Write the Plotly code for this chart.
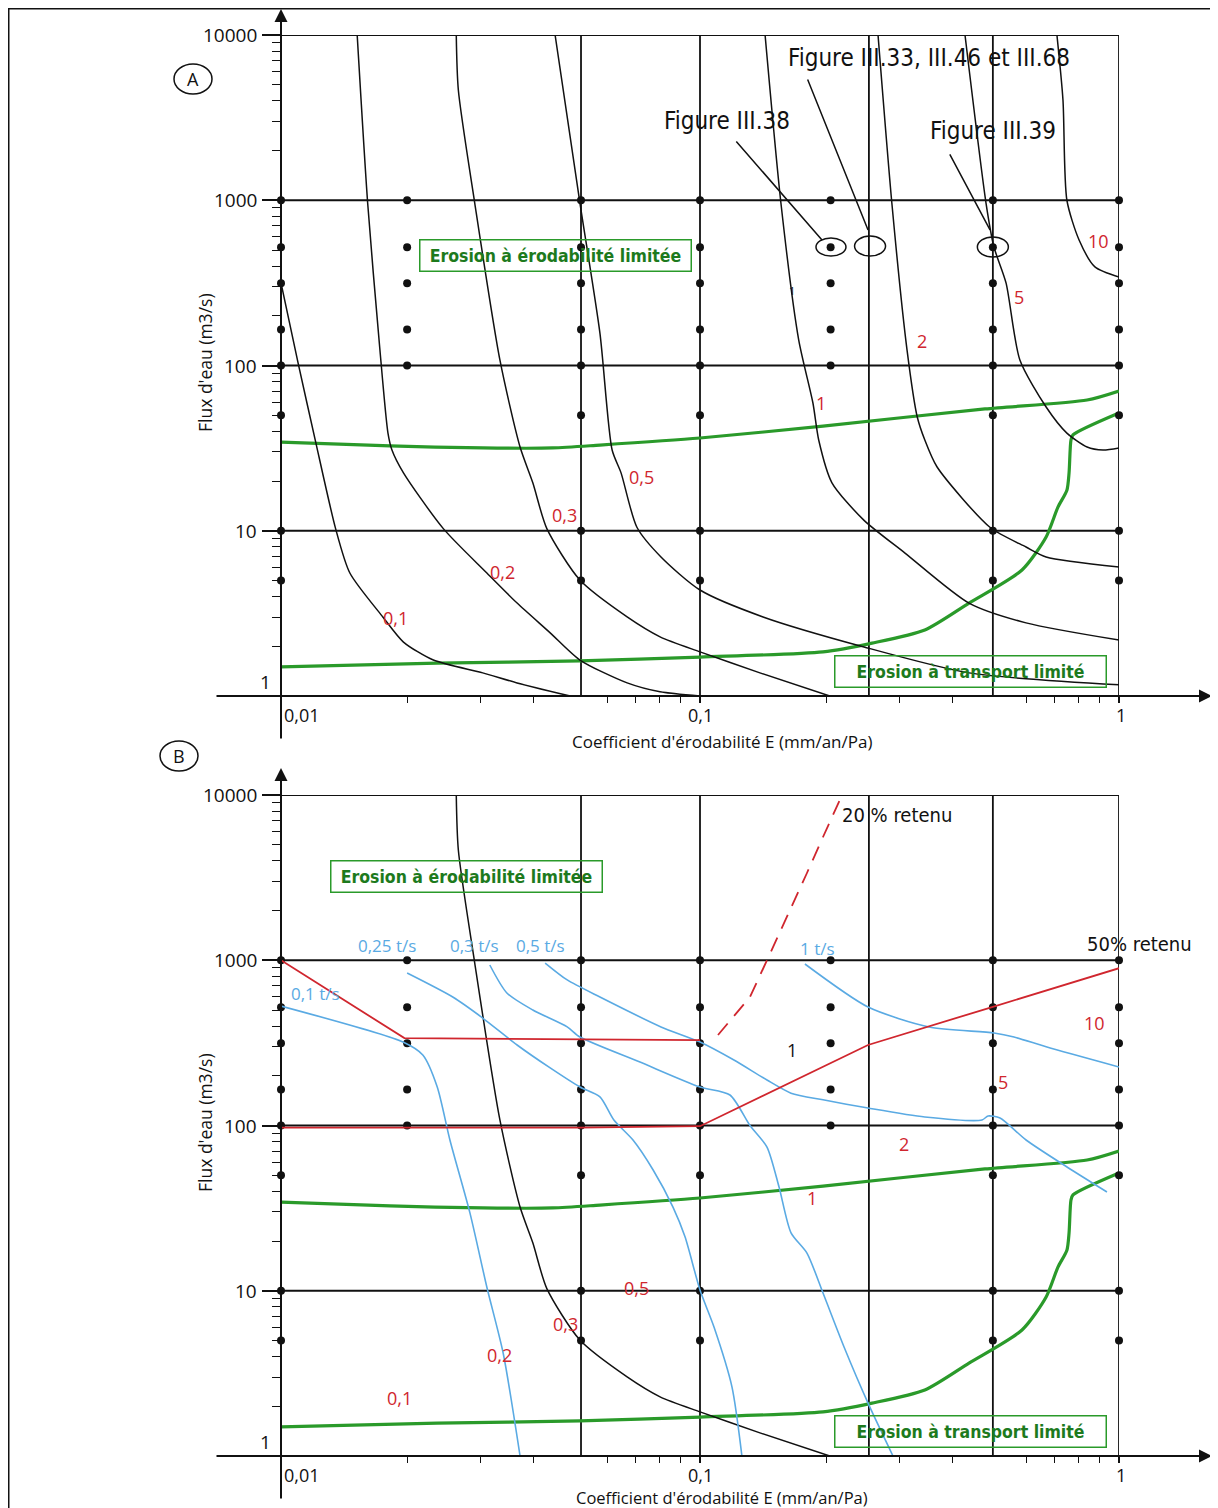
import math
import plotly.graph_objects as go

# the page body adds an 8 px margin: the figure is drawn 8 px smaller and everything shifted by it
OFF = 8
W, H = 1218 - OFF, 1508 - OFF

# ---- values: E (mm/an/Pa) and Q (m3/s) ----
# black iso-lines, panel A
iso_01_E = [0.0100, 0.0110, 0.0121, 0.0135, 0.0146, 0.0175, 0.0196, 0.0231, 0.0303, 0.0366, 0.0490]
iso_01_Q = [316, 102, 34.4, 10.3, 5.55, 3.01, 2.12, 1.65, 1.38, 1.20, 1.0]
iso_02_E = [0.0152, 0.0161, 0.0172, 0.0180, 0.0184, 0.0196, 0.0244, 0.0310, 0.0366, 0.0439, 0.0517, 0.0670, 0.0803, 0.100]
iso_02_Q = [10000, 962, 129, 39.0, 30.8, 22.4, 10.3, 5.55, 3.65, 2.41, 1.65, 1.20, 1.06, 1.0]
iso_03_E = [0.0262, 0.0265, 0.0290, 0.0333, 0.0372, 0.0399, 0.0431, 0.0517, 0.0670, 0.0803, 0.100, 0.139, 0.204]
iso_03_Q = [10000, 4647, 962, 108, 32.1, 19.5, 10.3, 5.03, 3.01, 2.28, 1.85, 1.38, 1.0]
iso_05_E = [0.0451, 0.0517, 0.0577, 0.0617, 0.0648, 0.0707, 0.0807, 0.100, 0.1414, 0.2463, 0.4385, 1.0]
iso_05_Q = [10000, 962, 157, 30.8, 22.4, 10.5, 6.94, 4.38, 3.01, 1.98, 1.38, 1.17]
iso_1_E = [0.143, 0.156, 0.172, 0.186, 0.192, 0.2065, 0.246, 0.3085, 0.4385, 0.600, 1.0]
iso_1_Q = [10000, 962, 143, 59.3, 35.4, 19.5, 11.6, 7.33, 3.65, 2.77, 2.18]
iso_2_E = [0.266, 0.287, 0.312, 0.330, 0.344, 0.368, 0.492, 0.600, 0.670, 1.0]
iso_2_Q = [10000, 962, 124, 48.8, 35.4, 24.3, 10.5, 7.97, 6.94, 6.03]
iso_5_E = [0.429, 0.4815, 0.503, 0.5375, 0.580, 0.670, 0.751, 0.839, 0.916, 1.0]
iso_5_Q = [10000, 962, 521, 316, 108, 56.1, 39.0, 32.1, 30.8, 31.7]
iso_10_E = [0.711, 0.735, 0.751, 0.803, 0.876, 1.0]
iso_10_Q = [10000, 4043, 1000, 575, 395, 343]

# green regime limits (both panels)
green_hi_E = [0.01, 0.0182, 0.0303, 0.0445, 0.0577, 0.100, 0.1966, 0.4788, 0.839, 1.0]
green_hi_Q = [34.4, 32.6, 31.7, 31.7, 33.0, 36.4, 43.0, 54.6, 61.8, 70.1]
green_lo_E = [0.01, 0.0236, 0.0517, 0.100, 0.1966, 0.2574, 0.344, 0.4385, 0.5868, 0.670,
              0.715, 0.751, 0.760, 0.768, 0.7765, 1.0]
green_lo_Q = [1.50, 1.58, 1.63, 1.72, 1.85, 2.09, 2.51, 3.65, 5.79, 9.17,
              13.9, 17.6, 22.4, 35.4, 38.0, 51.6]

# red retention lines, panel B
red_top_E = [0.01, 0.0197, 0.100]
red_top_Q = [1000, 338, 329]
red_low_E = [0.01, 0.0517, 0.100, 0.2518, 0.4978, 1.0]
red_low_Q = [97, 97, 99, 307, 521, 895]
red_dash_E = [0.1104, 0.1316, 0.1445, 0.1613, 0.180, 0.1966, 0.2183]
red_dash_Q = [353, 599, 1000, 1827, 3373, 5570, 10000]

# blue sediment-flux lines, panel B
blue_01_E = [0.01, 0.01955, 0.0218, 0.0236, 0.0253, 0.02825, 0.031, 0.0339, 0.0372]
blue_01_Q = [528, 320, 267, 171, 81.7, 29.5, 10.5, 4.2, 1.0]
blue_025_E = [0.0200, 0.0257, 0.0303, 0.0366, 0.0439, 0.0517, 0.0577, 0.0623, 0.0692, 0.0773,
              0.0862, 0.0921, 0.100, 0.108, 0.1192, 0.1259]
blue_025_Q = [837, 599, 447, 307, 223, 171, 149, 108, 81.7, 53.8, 32.1, 21.2, 10.1, 6.03, 2.62, 1.0]
blue_03_E = [0.0315, 0.0346, 0.0399, 0.0482, 0.0517, 0.0719, 0.100, 0.1179, 0.1316, 0.1445,
             0.1544, 0.1649, 0.180, 0.1966, 0.2207, 0.2518, 0.2888]
blue_03_Q = [936, 634, 500, 395, 343, 242, 171, 153, 100, 74.1, 42.4, 22.4, 16.9, 9.69, 4.57, 2.09, 1.0]
blue_05_E = [0.0427, 0.0482, 0.0577, 0.0807, 0.100, 0.1205, 0.1445, 0.1649, 0.1966, 0.2518,
             0.344, 0.471, 0.487, 0.520, 0.600, 0.7514, 0.936]
blue_05_Q = [962, 760, 599, 395, 320, 249, 188.5, 157, 143, 127.6, 112.6, 108, 114.2, 111, 81.7, 56.1, 39.6]
blue_1_E = [0.178, 0.2518, 0.352, 0.503, 0.5616, 0.673, 1.0]
blue_1_Q = [949, 521, 395, 363, 343, 298.5, 226]

# simulation points
dots_full_E = [0.01, 0.052, 0.1, 0.5, 1.0]
dots_full_Q = [1000, 520, 315, 165, 100, 50, 10, 5]
dots_short_E = [0.02, 0.205]
dots_short_Q = [1000, 520, 315, 165, 100]

# cases circled in panel A (E, Q)
circled_E = [0.2054, 0.2546, 0.5]
circled_Q = [521, 528, 521]

grid_E = [0.052, 0.1, 0.253, 0.5, 1.0]
grid_Q = [10, 100, 1000, 10000]

BLACK = "#111111"
GREEN = "#2a9a2a"
GREEN_TXT = "#1d7a1d"
RED = "#d0262e"
BLUE = "#5aaae3"
SANS = "Open Sans, Arial, sans-serif"
NARROW = "DejaVu Sans Condensed, Liberation Sans Narrow, sans-serif"

AX = {"A": ("x", "y"), "B": ("x2", "y2")}
lg = math.log10


def px(x):
    return (x - OFF) / W


def py(y):
    return 1 - (y - OFF) / H


X_DOM = [px(281), px(1119)]
YA_DOM = [py(696), py(35)]
YB_DOM = [py(1456), py(795)]

fig = go.Figure()


def line(E, Q, panel, color, width, dash=None, shape="spline"):
    xa, ya = AX[panel]
    fig.add_trace(go.Scatter(x=E, y=Q, mode="lines", xaxis=xa, yaxis=ya, hoverinfo="skip",
                             line=dict(color=color, width=width, dash=dash, shape=shape, smoothing=0.7)))


for panel in ("A", "B"):
    xa, ya = AX[panel]
    line(green_hi_E, green_hi_Q, panel, GREEN, 3.2)
    line(green_lo_E, green_lo_Q, panel, GREEN, 3.2)
    pts_E = [e for e in dots_full_E for q in dots_full_Q] + [e for e in dots_short_E for q in dots_short_Q]
    pts_Q = [q for e in dots_full_E for q in dots_full_Q] + [q for e in dots_short_E for q in dots_short_Q]
    fig.add_trace(go.Scatter(x=pts_E, y=pts_Q, mode="markers", xaxis=xa, yaxis=ya, cliponaxis=False,
                             marker=dict(color=BLACK, size=8), hoverinfo="skip"))

for E, Q in [(iso_01_E, iso_01_Q), (iso_02_E, iso_02_Q), (iso_03_E, iso_03_Q), (iso_05_E, iso_05_Q),
             (iso_1_E, iso_1_Q), (iso_2_E, iso_2_Q), (iso_5_E, iso_5_Q), (iso_10_E, iso_10_Q)]:
    line(E, Q, "A", BLACK, 1.5)

line(iso_03_E, iso_03_Q, "B", BLACK, 1.5)
for E, Q in [(blue_01_E, blue_01_Q), (blue_025_E, blue_025_Q), (blue_03_E, blue_03_Q),
             (blue_05_E, blue_05_Q), (blue_1_E, blue_1_Q)]:
    line(E, Q, "B", BLUE, 1.6)
line(red_top_E, red_top_Q, "B", RED, 1.8, shape="linear")
line(red_low_E, red_low_Q, "B", RED, 1.8, shape="linear")
line(red_dash_E, red_dash_Q, "B", RED, 1.8, dash="15px,10px", shape="linear")

# ---- grid, frames and decorations (shapes take raw values on log axes) ----
shapes = []
for panel in ("A", "B"):
    xa, ya = AX[panel]
    for v in grid_E:
        shapes.append(dict(type="line", xref=xa, yref=ya + " domain", x0=v, x1=v, y0=0, y1=1,
                           line=dict(color=BLACK, width=1.8), layer="below"))
    for q in grid_Q:
        shapes.append(dict(type="line", xref=xa + " domain", yref=ya, x0=0, x1=1, y0=q, y1=q,
                           line=dict(color=BLACK, width=1.8), layer="below"))

# ellipses around the circled cases, placed in paper space from their (E, Q)
for e, q, w, h in zip(circled_E, circled_Q, [30, 31, 31], [18, 20, 20]):
    cx = X_DOM[0] + (lg(e) + 2) / 2 * (X_DOM[1] - X_DOM[0])
    cy = YA_DOM[0] + lg(q) / 4 * (YA_DOM[1] - YA_DOM[0])
    shapes.append(dict(type="circle", xref="paper", yref="paper",
                       x0=cx - w / 2 / W, x1=cx + w / 2 / W, y0=cy - h / 2 / H, y1=cy + h / 2 / H,
                       line=dict(color=BLACK, width=1.5)))

# panel letters
for cx, cy in [(193, 79), (179, 756)]:
    shapes.append(dict(type="circle", xref="paper", yref="paper",
                       x0=px(cx - 19), x1=px(cx + 19), y0=py(cy + 15), y1=py(cy - 15),
                       line=dict(color=BLACK, width=1.5)))

# outer frame (top and left edges visible)
shapes.append(dict(type="line", xref="paper", yref="paper", x0=0, x1=1, y0=1, y1=1,
                   line=dict(color=BLACK, width=3)))
shapes.append(dict(type="line", xref="paper", yref="paper", x0=0, x1=0, y0=0, y1=1,
                   line=dict(color=BLACK, width=3)))

ann = []


def txt(text, e, q, panel, color=BLACK, size=18, family=SANS, **kw):
    xa, ya = AX[panel]
    ann.append(dict(text=text, x=lg(e), y=lg(q), xref=xa, yref=ya, showarrow=False,
                    font=dict(color=color, size=size, family=family), **kw))


for t, e, q in [("0,1", 0.0188, 2.96), ("0,2", 0.0337, 5.63), ("0,3", 0.0476, 12.5), ("0,5", 0.0727, 21.2),
                ("1", 0.194, 59.3), ("2", 0.3386, 140.7), ("5", 0.577, 260), ("10", 0.891, 567)]:
    txt(t, e, q, "A", RED, 18)
for t, e, q in [("0,1", 0.0192, 2.24), ("0,2", 0.0333, 4.08), ("0,3", 0.0478, 6.29), ("0,5", 0.0707, 10.4),
                ("1", 0.185, 36.4), ("2", 0.307, 77.3), ("5", 0.529, 183), ("10", 0.872, 417)]:
    txt(t, e, q, "B", RED, 18)
for t, e, q in [("0,1 t/s", 0.0121, 625), ("0,25 t/s", 0.0179, 1220), ("0,3 t/s", 0.0289, 1220),
                ("0,5 t/s", 0.0417, 1220), ("1 t/s", 0.1912, 1186)]:
    txt(t, e, q, "B", BLUE, 17)

txt("1", 0.1658, 286, "A", BLACK, 11)
txt("1", 0.1658, 286, "B", BLACK, 18)
txt("20 % retenu", 0.2953, 7568, "B", BLACK, 20, NARROW)
txt("50% retenu", 1.0, 1254, "B", BLACK, 20, NARROW, xshift=20)

txt("Figure III.38", 0.116, 3017, "A", BLACK, 24, NARROW)
txt("Figure III.33, III.46 et III.68", 0.352, 7258, "A", BLACK, 24, NARROW)
txt("Figure III.39", 0.5, 2624, "A", BLACK, 24, NARROW)
for e, q, dx, dy in [(0.1955, 575, -87, -100), (0.2518, 661, -61, -152), (0.4922, 661, -41, -77)]:
    ann.append(dict(x=lg(e), y=lg(q), xref="x", yref="y", text="", showarrow=True, arrowhead=0,
                    ax=dx, ay=dy, arrowwidth=1.5, arrowcolor=BLACK))

# regime boxes
for panel, e, q, t in [("A", 0.0451, 460, "Erosion à érodabilité limitée"),
                       ("B", 0.02764, 3234, "Erosion à érodabilité limitée"),
                       ("A", 0.441, 1.40, "Erosion à transport limité"),
                       ("B", 0.441, 1.40, "Erosion à transport limité")]:
    txt("<b>" + t + "</b>", e, q, panel, GREEN_TXT, 17.5, NARROW, bordercolor=GREEN, borderwidth=1.5,
        borderpad=1, width=268, height=28)

# tick labels, axis titles, axis arrows
for panel, top_px, axis_px in [("A", 8, 696), ("B", 768, 1456)]:
    xa, ya = AX[panel]
    for q in [10, 100, 1000, 10000]:
        ann.append(dict(text=str(q), xref=xa + " domain", x=0, yref=ya, y=lg(q), xanchor="right",
                        yanchor="middle", xshift=-22, showarrow=False,
                        font=dict(size=19, family=SANS, color=BLACK)))
    ann.append(dict(text="1", xref=xa + " domain", x=0, yref=ya, y=0, xanchor="right", yanchor="middle",
                    xshift=-8, yshift=14, showarrow=False, font=dict(size=19, family=SANS, color=BLACK)))
    for t, v, anchor, sh in [("0,01", 0.01, "left", 1), ("0,1", 0.1, "center", 0), ("1", 1.0, "center", 2)]:
        ann.append(dict(text=t, xref=xa, x=lg(v), yref=ya + " domain", y=0, xanchor=anchor, yanchor="top",
                        xshift=sh, yshift=-5, showarrow=False, font=dict(size=18, family=SANS, color=BLACK)))
    ann.append(dict(text="Coefficient d'érodabilité E (mm/an/Pa)", xref="paper", yref="paper",
                    x=px(722), y=py(min(axis_px + 45, 1497)), xanchor="center", yanchor="middle",
                    showarrow=False, font=dict(size=17 if panel == "A" else 16.5, family=SANS, color=BLACK)))
    ann.append(dict(text="Flux d'eau (m3/s)", xref="paper", yref="paper", x=px(205),
                    y=py(axis_px - 333), xanchor="center", yanchor="middle", textangle=-90,
                    showarrow=False, font=dict(size=17.5, family=SANS, color=BLACK)))
    # arrows of both axes
    ann.append(dict(text="", xref=xa + " domain", x=0, yref="paper", y=py(top_px), ax=0,
                    ay=axis_px + 44 - top_px, showarrow=True, arrowhead=2, arrowsize=1.3,
                    arrowwidth=2, arrowcolor=BLACK))
    ann.append(dict(text="", xref="paper", x=px(1212), yref=ya + " domain", y=0, ax=-997, ay=0,
                    showarrow=True, arrowhead=2, arrowsize=1.3, arrowwidth=2, arrowcolor=BLACK))

for t, cx, cy in [("A", 193, 79), ("B", 179, 756)]:
    ann.append(dict(text=t, xref="paper", yref="paper", x=px(cx), y=py(cy), xanchor="center",
                    yanchor="middle", showarrow=False, font=dict(size=18, family=SANS, color=BLACK)))

x_minor = [k * 10 ** p for p in (-2, -1) for k in range(2, 10) if k != 5]
y_minor = [k * 10 ** p for p in range(0, 4) for k in range(2, 10)]

xcommon = dict(type="log", range=[-2, 0], domain=X_DOM, showgrid=False, zeroline=False,
               showline=False, showticklabels=False, tickmode="array", tickvals=[0.01, 0.1, 1],
               ticks="outside", ticklen=6, tickwidth=1.5, tickcolor=BLACK,
               minor=dict(tickmode="array", tickvals=x_minor, ticks="outside", ticklen=6,
                          tickwidth=1.2, tickcolor=BLACK, showgrid=False))
ycommon = dict(type="log", range=[0, 4], showgrid=False, zeroline=False, showline=False,
               showticklabels=False, tickmode="array", tickvals=[1, 10, 100, 1000, 10000],
               ticks="outside", ticklen=18, tickwidth=1.5, tickcolor=BLACK,
               minor=dict(tickmode="array", tickvals=y_minor, ticks="outside", ticklen=8,
                          tickwidth=1.2, tickcolor=BLACK, showgrid=False))

fig.update_layout(
    width=W, height=H, margin=dict(l=0, r=0, t=0, b=0),
    paper_bgcolor="white", plot_bgcolor="rgba(0,0,0,0)", showlegend=False,
    xaxis=dict(anchor="y", **xcommon),
    yaxis=dict(anchor="x", domain=YA_DOM, **ycommon),
    xaxis2=dict(anchor="y2", **xcommon),
    yaxis2=dict(anchor="x2", domain=YB_DOM, **ycommon),
    shapes=shapes, annotations=ann,
)

fig.write_html("out.html")
